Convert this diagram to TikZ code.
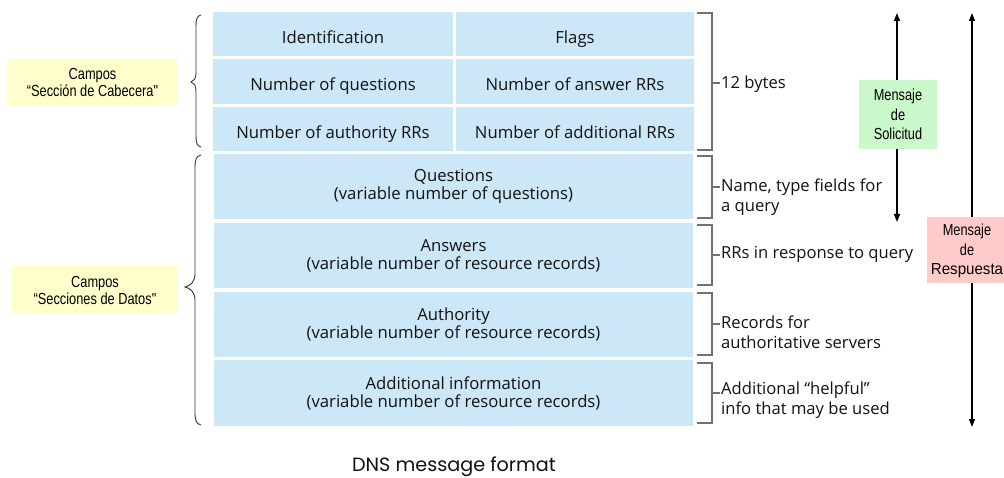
\documentclass[tikz,border=0pt]{standalone}
\usepackage{fontspec}
\setmainfont{Open Sans}
\newfontfamily\labfont[FakeStretch=0.8]{Liberation Sans}
\newfontfamily\capfont{Poppins}
\usetikzlibrary{calc,arrows.meta}
\definecolor{cellblue}{HTML}{CCE7F7}
\definecolor{solgreen}{HTML}{CAF8CA}
\definecolor{respink}{HTML}{FFCACA}
\definecolor{labyellow}{HTML}{FFFFCC}
\definecolor{brackgray}{HTML}{707070}
\definecolor{txt}{HTML}{111111}
\begin{document}
\begin{tikzpicture}[x=1bp,y=-1bp,
  cell/.style={fill=cellblue,inner sep=0pt,align=center,text=txt,
    font=\fontsize{16.7bp}{18bp}\selectfont},
  hcell/.style={cell,text height=19bp,text depth=0pt},
  note/.style={anchor=west,inner sep=1pt,align=left,text=txt,
    font=\fontsize{16.6bp}{20bp}\selectfont},
  bracket/.style={draw=brackgray,line width=1.3bp},
  tick/.style={draw=brackgray,line width=1.1bp},
  lab/.style={inner sep=0pt,align=center,text=black,
    font=\labfont\fontsize{16bp}{17bp}\selectfont},
  msg/.style={inner sep=0pt,align=center,text=black,
    font=\labfont\fontsize{16bp}{19.5bp}\selectfont},
  brace/.style={draw=black!80,line width=0.9bp},
  arr/.style={draw=black,line width=1.4bp,-{Triangle[length=8bp,width=6bp]}}]
\useasboundingbox (0,0) rectangle (1004,478);

% header cells
\node[hcell,minimum width=240,minimum height=44] (id) at (333,34) {Identification};
\node[hcell,minimum width=238,minimum height=44] (flags) at (575,34) {Flags};
\node[hcell,minimum width=240,minimum height=45] (nq) at (333,81.5) {Number of questions};
\node[hcell,minimum width=238,minimum height=45] (nans) at (575,81.5) {Number of answer RRs};
\node[hcell,minimum width=240,minimum height=44] (nauth) at (333,129) {Number of authority RRs};
\node[hcell,minimum width=238,minimum height=44] (nadd) at (575,129) {Number of additional RRs};

% data cells
\node[cell,minimum width=481,minimum height=65] (quest) at (453.5,186.5) {Questions\\(variable number of questions)};
\node[cell,minimum width=481,minimum height=65] (answ) at (453.5,255.5) {Answers\\(variable number of resource records)};
\node[cell,minimum width=481,minimum height=65] (auth) at (453.5,324.5) {Authority\\(variable number of resource records)};
\node[cell,minimum width=481,minimum height=66] (addi) at (453.5,393) {Additional information\\(variable number of resource records)};

% right brackets
\draw[bracket] (697,13) -- (712,13) -- (712,150) -- (697,150);
\draw[bracket] (697,156) -- (712,156) -- (712,218) -- (697,218);
\draw[bracket] (697,225) -- (712,225) -- (712,285) -- (697,285);
\draw[bracket] (697,293) -- (712,293) -- (712,355) -- (697,355);
\draw[bracket] (697,363) -- (712,363) -- (712,423) -- (697,423);

\node[note] (bytes) at (720,84) {12 bytes};
\node[note] (qnote) at (720,197) {Name, type fields for\\a query};
\node[note] (anote) at (720,254) {RRs in response to query};
\node[note] (aunote) at (720,332) {Records for\\authoritative servers};
\node[note] (adnote) at (720,400) {Additional “helpful”\\info that may be used};

\coordinate (t1) at (712,83);
\coordinate (t2) at (712,187);
\coordinate (t3) at (712,255);
\coordinate (t4) at (712,324);
\coordinate (t5) at (712,393);
\draw[tick] (t1) -- (bytes.west|-t1);
\draw[tick] (t2) -- (qnote.west|-t2);
\draw[tick] (t3) -- (anote.west|-t3);
\draw[tick] (t4) -- (aunote.west|-t4);
\draw[tick] (t5) -- (adnote.west|-t5);

% message arrows
\node[msg,fill=solgreen,minimum width=78,minimum height=69] (sol) at (898,114.5) {Mensaje\\de\\Solicitud};
\coordinate (soltop) at (897,13);
\coordinate (solbot) at (897,222);
\draw[arr] (sol.north-|soltop) -- (soltop);
\draw[arr] (sol.south-|solbot) -- (solbot);

\node[msg,fill=respink,minimum width=84,minimum height=66] (res) at (969,250) {};
\node[msg] (restext) at (967,251) {Mensaje\\de\\\scalebox{1.18}[1]{Respuesta}};
\coordinate (restop) at (972,13);
\coordinate (resbot) at (972,427);
\draw[arr] (res.north-|restop) -- (restop);
\draw[arr] (res.south-|resbot) -- (resbot);

% left labels
\node[lab,fill=labyellow,minimum width=171,minimum height=47] (cab) at (92.5,82.5) {Campos\\“Sección de Cabecera"};
\node[lab,fill=labyellow,minimum width=166,minimum height=48] (dat) at (95,290) {Campos\\“Secciones de Datos"};

% braces
\draw[brace] (201,15) .. controls (197,16) and (196,19) .. (196,26)
  -- (196,72) .. controls (196,79) and (194,81) .. (191,82)
  .. controls (194,83) and (196,85) .. (196,92)
  -- (196,136) .. controls (196,143) and (197,146) .. (201,147);
\draw[brace] (201,155) .. controls (196,156) and (195,160) .. (195,168)
  -- (195,274) .. controls (195,282) and (190,286) .. (185,287)
  .. controls (190,288) and (195,292) .. (195,300)
  -- (195,412) .. controls (195,420) and (196,424) .. (201,425);

% caption
\node[inner sep=0pt,text=txt,font=\capfont\fontsize{19.2bp}{22bp}\selectfont] (cap) at (454,467) {DNS message format};
\end{tikzpicture}
\end{document}
